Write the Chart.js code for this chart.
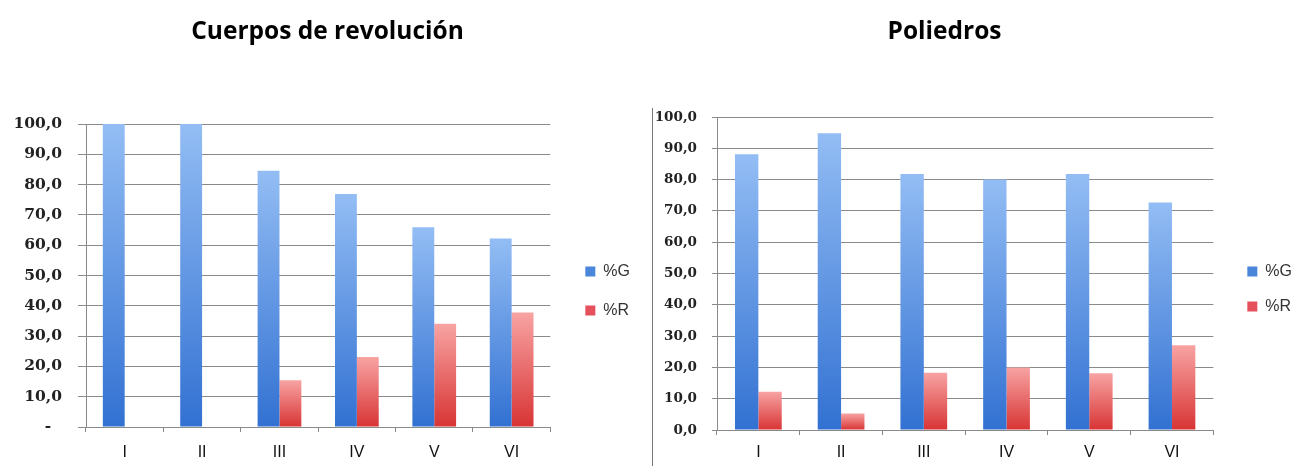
<!DOCTYPE html>
<html>
<head>
<meta charset="utf-8">
<script src="https://cdn.jsdelivr.net/npm/chart.js@4/dist/chart.umd.min.js"></script>
<style>
  html, body { margin: 0; padding: 0; background: #fff; }
  body { width: 1292px; height: 466px; position: relative; overflow: hidden; }
  .wrap { position: absolute; top: 0; height: 466px; }
  #w1 { left: 0; width: 656px; }
  #w2 { left: 598px; width: 694px; }
  #edge { position: absolute; left: 652px; top: 108px; width: 0; height: 358px; border-left: 1px solid #777; }
</style>
</head>
<body>
<div id="edge"></div>
<div class="wrap" id="w1"><canvas id="c1"></canvas></div>
<div class="wrap" id="w2"><canvas id="c2"></canvas></div>
<script>
// ---- data ----
const categories = ['I', 'II', 'III', 'IV', 'V', 'VI'];
const seriesNames = ['%G', '%R'];
const titles = ['Cuerpos de revolución', 'Poliedros'];

const revolucionG = [100, 100, 84.6, 76.9, 65.9, 62.2];
const revolucionR = [0, 0, 15.4, 23.1, 34.1, 37.8];

const poliedrosG = [88.1, 94.8, 81.8, 80.0, 81.8, 72.7];
const poliedrosR = [12.2, 5.3, 18.3, 20.0, 18.1, 27.1];

const yTicksRevolucion = ['-  ', '10,0', '20,0', '30,0', '40,0', '50,0', '60,0', '70,0', '80,0', '90,0', '100,0'];
const yTicksPoliedros = ['0,0', '10,0', '20,0', '30,0', '40,0', '50,0', '60,0', '70,0', '80,0', '90,0', '100,0'];

// ---- styling helpers ----
const legendColors = ['#4a86da', '#e4505c'];
function barGradient(topCol, bottomCol) {
  return (ctx) => {
    const chart = ctx.chart;
    if (!chart.chartArea || ctx.type !== 'data') return bottomCol;
    const y = chart.scales.y;
    const y0 = y.getPixelForValue(0);
    const y1 = y.getPixelForValue(ctx.raw || 0);
    if (!isFinite(y0) || !isFinite(y1) || y0 - y1 < 1) return bottomCol;
    const g = chart.ctx.createLinearGradient(0, y1, 0, y0);
    g.addColorStop(0, topCol);
    g.addColorStop(1, bottomCol);
    return g;
  };
}
const blueFill = barGradient('#93bdf4', '#3271d2');
const redFill = barGradient('#f8a3a3', '#d83434');

const boxShift = {
  id: 'boxShift',
  afterLayout(chart, args, opts) {
    const l = chart.legend;
    if (l && opts.legend) {
      l.left += opts.legend.x; l.right += opts.legend.x;
      l.top += opts.legend.y; l.bottom += opts.legend.y;
    }
    const t = chart.titleBlock;
    if (t && opts.title) {
      t.left += opts.title.x; t.right += opts.title.x;
    }
  }
};

function makeChart(id, cfg) {
  return new Chart(document.getElementById(id), {
    type: 'bar',
    data: {
      labels: categories,
      datasets: [
        { label: seriesNames[0], data: cfg.g, backgroundColor: blueFill, borderWidth: 0 },
        { label: seriesNames[1], data: cfg.r, backgroundColor: redFill, borderWidth: 0 }
      ]
    },
    options: {
      responsive: true,
      maintainAspectRatio: false,
      animation: false,
      datasets: { bar: { categoryPercentage: 0.565, barPercentage: 1 } },
      layout: { padding: { left: 0, right: cfg.padR, top: 0, bottom: 0 } },
      plugins: {
        tooltip: { enabled: false },
        title: {
          display: true,
          text: cfg.title,
          color: '#000',
          font: { family: 'Open Sans', size: 24.5, weight: 'bold' },
          padding: { top: 17, bottom: cfg.titleBottom }
        },
        legend: {
          position: 'right',
          fullSize: false,
          labels: {
            boxWidth: 10, boxHeight: 10,
            padding: cfg.legendPad,
            color: '#333',
            font: { family: 'Liberation Sans', size: 16 },
            generateLabels: (chart) => {
              const items = Chart.defaults.plugins.legend.labels.generateLabels(chart);
              items.forEach((it, i) => { it.fillStyle = legendColors[i]; it.strokeStyle = legendColors[i]; it.lineWidth = 0; });
              return items;
            }
          }
        },
        boxShift: cfg.shift
      },
      scales: {
        x: {
          grid: { display: true, drawOnChartArea: false, drawTicks: true, tickLength: 5, color: '#888', offset: true },
          border: { display: false },
          ticks: { color: '#111', padding: cfg.xPad, font: { family: 'Liberation Sans', size: 16 } },
          afterFit: (s) => { s.height = cfg.xHeight; }
        },
        y: {
          min: 0, max: 100,
          grid: { color: '#8a8a8a', tickLength: cfg.yTick, drawTicks: true },
          border: { display: true, color: '#8a8a8a' },
          ticks: {
            stepSize: 10,
            color: '#222',
            padding: cfg.yPad,
            font: { family: 'DejaVu Serif', size: cfg.yFont, weight: 'bold' },
            callback: (v) => cfg.yTicks[Math.round(v / 10)]
          },
          afterFit: (s) => { s.width = cfg.yWidth; }
        }
      }
    },
    plugins: [boxShift]
  });
}

makeChart('c1', {
  title: titles[0], g: revolucionG, r: revolucionR, yTicks: yTicksRevolucion,
  padR: 28, titleBottom: 77.6, legendPad: 23,
  shift: { legend: { x: 12, y: 15.5 }, title: { x: 13.5 } },
  xPad: 11, xHeight: 39, yTick: 8, yPad: 16, yFont: 15.5, yWidth: 86
});
makeChart('c2', {
  title: titles[1], g: poliedrosG, r: poliedrosR, yTicks: yTicksPoliedros,
  padR: 5, titleBottom: 70.6, legendPad: 19,
  shift: { legend: { x: 15, y: 15.5 }, title: { x: 2 } },
  xPad: 8, xHeight: 36, yTick: 5, yPad: 15, yFont: 13.5, yWidth: 119
});
</script>
</body>
</html>
